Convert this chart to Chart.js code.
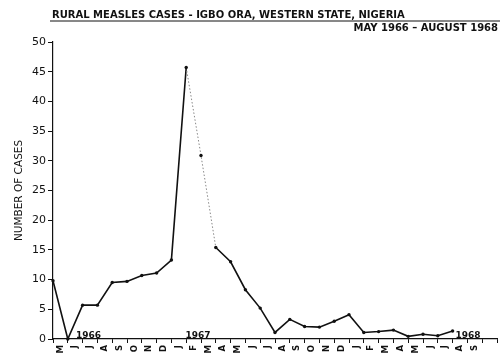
<!DOCTYPE html>
<html>
<head>
<meta charset="utf-8">
<script src="https://cdn.jsdelivr.net/npm/chart.js@4.4.1/dist/chart.umd.min.js"></script>
<style>
  html, body { margin: 0; padding: 0; background: #fff; }
</style>
</head>
<body>
<canvas id="chart" width="501" height="357"></canvas>
<script>
// months from May 1966 to September 1968, labels sit between the ticks
const months = ['M','J','J','A','S','O','N','D','J','F','M','A','M','J','J','A','S','O','N','D','J','F','M','A','M','J','J','A','S'];
// cases per month
const cases = [9.8, 0, 5.7, 5.7, 9.5, 9.7, 10.7, 11.1, 13.3, 45.7, 30.9, 15.4, 13.0, 8.3, 5.2,
               1.1, 3.3, 2.1, 2.0, 3.0, 4.1, 1.1, 1.25, 1.5, 0.45, 0.8, 0.55, 1.35];
const years = ['1966', '1967', '1968'];
const yearAt = [1.55, 8.95, 27.2];

const title = 'RURAL MEASLES CASES - IGBO ORA, WESTERN STATE, NIGERIA';
const subtitle = 'MAY 1966 \u2013 AUGUST 1968';

const ink = '#111';

// header text, rule and year notes
const notes = {
  id: 'notes',
  afterDraw(chart) {
    const ctx = chart.ctx;
    const x = chart.scales.x, y = chart.scales.y;
    ctx.save();
    ctx.fillStyle = ink;
    ctx.strokeStyle = ink;
    ctx.font = 'bold 10px "DejaVu Sans"';
    ctx.textBaseline = 'alphabetic';
    ctx.textAlign = 'left';
    ctx.fillText(title, 52, 17.5);
    ctx.lineWidth = 1;
    ctx.beginPath();
    ctx.moveTo(50, 21);
    ctx.lineTo(500, 21);
    ctx.stroke();
    ctx.textAlign = 'right';
    ctx.fillText(subtitle, 498, 31);

    ctx.font = 'bold 9px "DejaVu Sans"';
    ctx.textAlign = 'left';
    years.forEach((t, i) => {
      ctx.fillText(t, x.getPixelForValue(yearAt[i]), y.getPixelForValue(0) - 1.5);
    });
    ctx.restore();
  }
};

const faded = ctx => (ctx.p0.parsed.x >= 9 && ctx.p1.parsed.x <= 11);

new Chart(document.getElementById('chart'), {
  type: 'line',
  data: {
    datasets: [{
      data: cases.map((v, i) => ({ x: i, y: v })),
      borderColor: ink,
      borderWidth: 1.6,
      pointRadius: 1.7,
      pointBackgroundColor: ink,
      pointBorderWidth: 0,
      tension: 0,
      clip: false,
      segment: {
        borderColor: ctx => faded(ctx) ? '#888' : undefined,
        borderWidth: ctx => faded(ctx) ? 1 : undefined,
        borderDash: ctx => faded(ctx) ? [1.5, 2] : undefined
      }
    }]
  },
  options: {
    responsive: false,
    animation: false,
    layout: { padding: { top: 42, right: 4, left: 0, bottom: 0 } },
    plugins: { legend: { display: false }, tooltip: { enabled: false } },
    scales: {
      x: {
        type: 'linear',
        position: 'bottom',
        weight: 0,
        min: 0,
        max: 30,
        ticks: { display: false, stepSize: 1 },
        grid: { drawOnChartArea: false, tickLength: 4, color: ink, lineWidth: 1 },
        border: { color: ink, width: 1.2 },
        afterFit(s) { s.height = 5; s.paddingLeft = 0; s.paddingRight = 0; }
      },
      xm: {
        type: 'linear',
        position: 'bottom',
        weight: 1,
        min: 0,
        max: 30,
        afterBuildTicks(s) { s.ticks = months.map((m, i) => ({ value: i + 0.5 })); },
        ticks: {
          autoSkip: false,
          minRotation: 90,
          maxRotation: 90,
          padding: 1,
          color: ink,
          font: { family: 'DejaVu Sans', size: 8.5, weight: 'bold' },
          callback: (v, i) => months[i]
        },
        grid: { display: false, drawTicks: false },
        border: { display: false },
        afterFit(s) { s.height = 13; s.paddingLeft = 0; s.paddingRight = 0; }
      },
      y: {
        min: 0,
        max: 50,
        ticks: {
          stepSize: 5,
          padding: 2,
          color: ink,
          font: { family: 'DejaVu Sans', size: 11 }
        },
        grid: { drawOnChartArea: false, tickLength: 5, color: ink, lineWidth: 1 },
        border: { color: ink, width: 1.2 },
        title: {
          display: true,
          text: 'NUMBER OF CASES',
          color: ink,
          padding: { top: 13, bottom: 0 },
          font: { family: 'DejaVu Sans', size: 10.5 }
        },
        afterFit(s) { s.width = 53; s.paddingTop = 0; s.paddingBottom = 0; }
      }
    }
  },
  plugins: [notes]
});
</script>
</body>
</html>
